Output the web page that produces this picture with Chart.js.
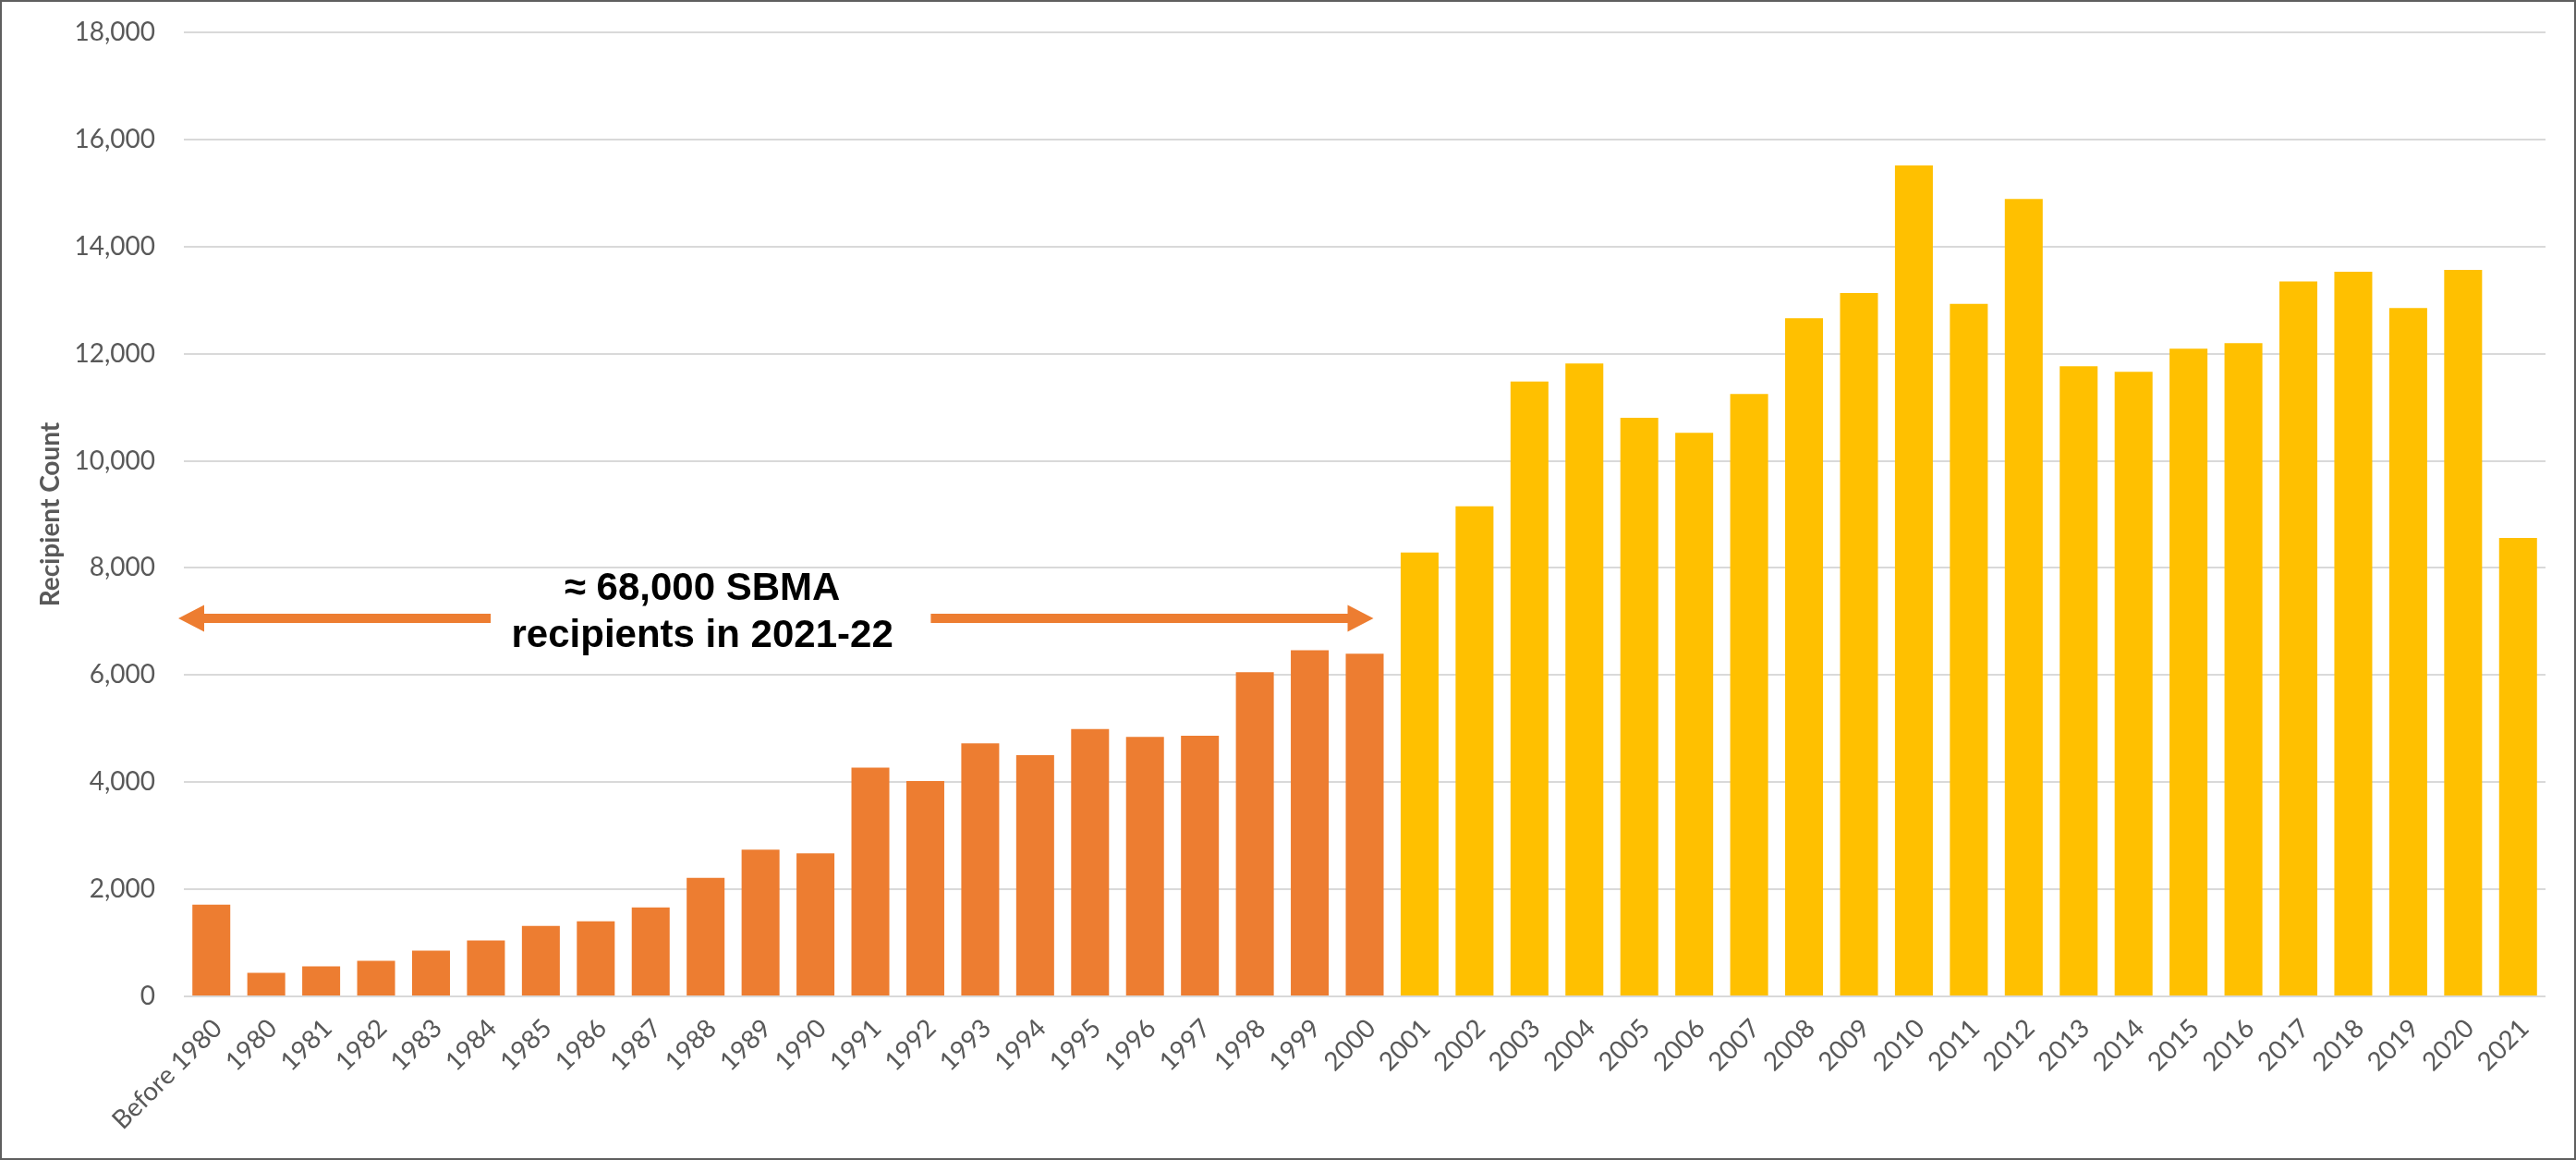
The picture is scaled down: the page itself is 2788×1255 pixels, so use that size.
<!DOCTYPE html>
<html>
<head>
<meta charset="utf-8">
<script src="https://cdn.jsdelivr.net/npm/chart.js@4/dist/chart.umd.min.js"></script>
<style>
  html, body { margin: 0; padding: 0; background: #fff; }
  #frame { width: 2788px; height: 1255px; box-sizing: border-box; border: 2px solid #5f5f5f; background: #fff; }
  canvas { display: block; }
</style>
</head>
<body>
<div id="frame"><canvas id="c" width="2784" height="1251"></canvas></div>
<script>
// ---- data ----
const categories = ["Before 1980","1980","1981","1982","1983","1984","1985","1986","1987","1988","1989","1990",
  "1991","1992","1993","1994","1995","1996","1997","1998","1999","2000",
  "2001","2002","2003","2004","2005","2006","2007","2008","2009","2010","2011","2012","2013","2014","2015","2016","2017","2018","2019","2020","2021"];
// recipients by year, up to 2000 (orange)
const earlyValues = [1715, 440, 560, 665, 855, 1043, 1318, 1404, 1662, 2215, 2738, 2670,
  4270, 4020, 4725, 4505, 4990, 4845, 4865, 6055, 6465, 6400];
// recipients by year, 2001 onward (yellow)
const lateValues = [8287, 9150, 11482, 11818, 10803, 10521, 11248, 12662, 13133, 15515, 12932, 14889, 11764, 11660, 12094, 12195, 13348, 13532, 12854, 13566, 8560];
const yTicks = [0, 2000, 4000, 6000, 8000, 10000, 12000, 14000, 16000, 18000];
const annotationLines = ["\u2248 68,000 SBMA", "recipients in 2021-22"];

// build datasets (stacked so each category holds one bar)
const earlySeries = categories.map((c, i) => i < earlyValues.length ? earlyValues[i] : null);
const lateSeries = categories.map((c, i) => i >= earlyValues.length ? lateValues[i - earlyValues.length] : null);

const ORANGE = '#ED7D31', YELLOW = '#FFC000', TICK = '#595959', GRID = '#D9D9D9';

const annot = {
  textX: 8.94, line1Y: 7608, line2Y: 6731,
  arrowY: 7058,
  left: { from: 5.087, to: -0.601 },
  right: { from: 13.10, to: 21.16 },
  shaft: 10, headW: 29, headL: 28
};

const annotationPlugin = {
  id: 'sbmaAnnot',
  afterDatasetsDraw(chart) {
    const { ctx, scales: { x, y } } = chart;
    ctx.save();
    ctx.fillStyle = ORANGE;
    const ay = y.getPixelForValue(annot.arrowY);
    function arrow(fromV, toV) {
      const x0 = x.getPixelForValue(fromV), x1 = x.getPixelForValue(toV);
      const dir = Math.sign(x1 - x0);
      const hb = x1 - dir * annot.headL;
      ctx.beginPath();
      ctx.moveTo(x0, ay - annot.shaft / 2);
      ctx.lineTo(hb, ay - annot.shaft / 2);
      ctx.lineTo(hb, ay - annot.headW / 2);
      ctx.lineTo(x1, ay);
      ctx.lineTo(hb, ay + annot.headW / 2);
      ctx.lineTo(hb, ay + annot.shaft / 2);
      ctx.lineTo(x0, ay + annot.shaft / 2);
      ctx.closePath();
      ctx.fill();
    }
    arrow(annot.left.from, annot.left.to);
    arrow(annot.right.from, annot.right.to);
    ctx.fillStyle = '#000';
    ctx.font = 'bold 42px "Liberation Sans", Arial, sans-serif';
    ctx.textAlign = 'center';
    ctx.textBaseline = 'middle';
    const tx = x.getPixelForValue(annot.textX);
    ctx.fillText(annotationLines[0], tx, y.getPixelForValue(annot.line1Y));
    ctx.fillText(annotationLines[1], tx, y.getPixelForValue(annot.line2Y));
    ctx.restore();
  }
};

new Chart(document.getElementById('c'), {
  type: 'bar',
  data: {
    labels: categories,
    datasets: [
      { label: 'Through 2000', data: earlySeries, backgroundColor: ORANGE, borderWidth: 0 },
      { label: '2001 onward', data: lateSeries, backgroundColor: YELLOW, borderWidth: 0 }
    ]
  },
  options: {
    responsive: false,
    animation: false,
    devicePixelRatio: 1,
    layout: { padding: { top: 33, right: 31, bottom: 0, left: 0 } },
    plugins: { legend: { display: false }, tooltip: { enabled: false } },
    datasets: { bar: { categoryPercentage: 1, barPercentage: 0.69 } },
    scales: {
      x: {
        stacked: true,
        grid: { display: false, drawTicks: false },
        border: { display: false },
        ticks: {
          color: TICK, autoSkip: false, minRotation: 45, maxRotation: 45, padding: 18, labelOffset: 7,
          font: { family: 'Lato, "Open Sans", sans-serif', size: 28 }
        },
        afterFit(scale) { scale.height = 175; scale.paddingLeft = 0; scale.paddingRight = 0; }
      },
      y: {
        stacked: true,
        min: 0, max: 18000,
        afterBuildTicks(scale) { scale.ticks = yTicks.map(v => ({ value: v })); },
        grid: { color: GRID, lineWidth: 2, drawTicks: false },
        border: { display: false },
        ticks: {
          color: TICK, padding: 31,
          font: { family: 'Lato, "Open Sans", sans-serif', size: 28 },
          callback: v => v.toLocaleString('en-US')
        },
        title: {
          display: true, text: 'Recipient Count', color: TICK,
          font: { family: 'Lato, "Open Sans", sans-serif', size: 28, weight: 'bold' },
          padding: { top: 36, bottom: 0 }
        },
        afterFit(scale) { scale.width = 197; scale.paddingTop = 0; scale.paddingBottom = 0; }
      }
    }
  },
  plugins: [annotationPlugin]
});
</script>
</body>
</html>
